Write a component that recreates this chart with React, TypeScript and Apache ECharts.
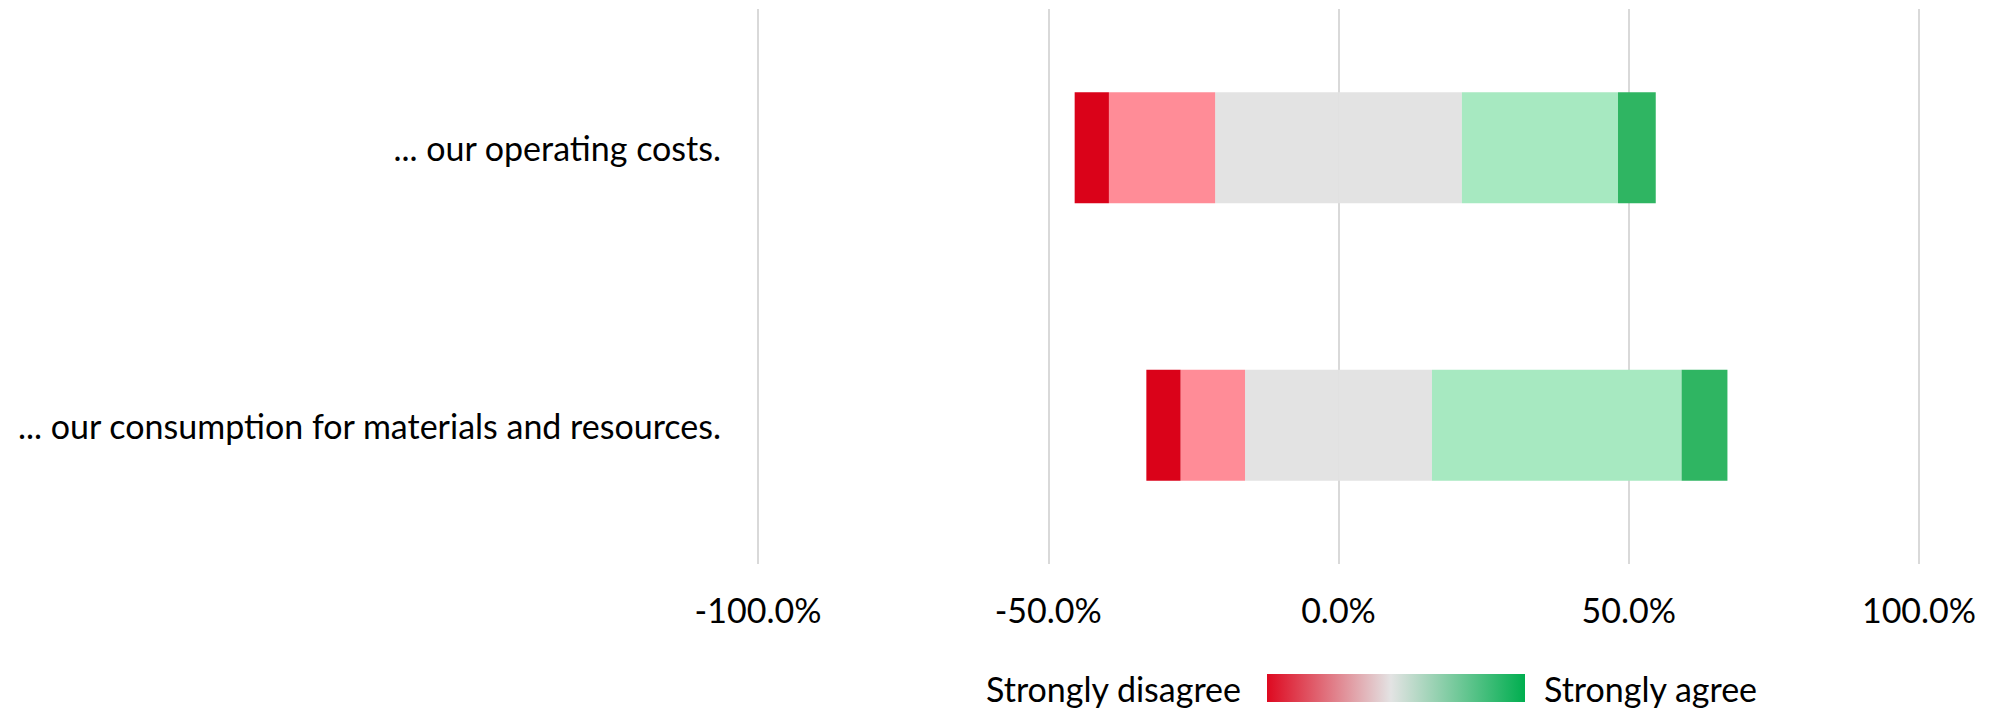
import React, { useEffect, useRef } from "react";
import * as echarts from "echarts";

const categories = [
  "... our operating costs.",
  "... our consumption for materials and resources.",
];
const stronglyDisagree = [5.9, 5.9];
const disagree = [18.3, 11.1];
const neutral = [42.5, 32.2];
const agree = [26.9, 43.0];
const stronglyAgree = [6.5, 7.9];
const axisTicks = [-100, -50, 0, 50, 100];
const legendLeft = "Strongly disagree";
const legendRight = "Strongly agree";

const FONT = "Lato";
const FS = 34;

export default function App() {
  const ref = useRef<HTMLDivElement>(null);
  useEffect(() => {
    if (!ref.current) return;
    const chart = echarts.init(ref.current, undefined, { renderer: "svg" });
    const barBase = {
      type: "bar" as const,
      stack: "likert",
      barWidth: "40%",
      stackStrategy: "samesign" as const,
    };
    chart.setOption({
      animation: false,
      backgroundColor: "#ffffff",
      textStyle: { fontFamily: FONT },
      grid: { left: 758, width: 1161, top: 9, height: 555 },
      xAxis: {
        type: "value",
        min: axisTicks[0],
        max: axisTicks[axisTicks.length - 1],
        interval: 50,
        axisLine: { show: false },
        axisTick: { show: false },
        splitLine: { show: true, lineStyle: { color: "#D9D9D9", width: 2 } },
        axisLabel: {
          formatter: (v: number) => v.toFixed(1) + "%",
          fontSize: FS,
          fontFamily: FONT,
          color: "#000000",
          margin: 28,
        },
      },
      yAxis: {
        type: "category",
        data: categories,
        inverse: true,
        axisLine: { show: false },
        axisTick: { show: false },
        splitLine: { show: false },
        axisLabel: {
          fontSize: FS,
          fontFamily: FONT,
          color: "#000000",
          margin: 37,
        },
      },
      series: [
        { ...barBase, name: "Neutral (neg)", data: neutral.map((v) => -v / 2), itemStyle: { color: "#E3E3E3" } },
        { ...barBase, name: "Disagree", data: disagree.map((v) => -v), itemStyle: { color: "#FF8C97" } },
        { ...barBase, name: "Strongly disagree", data: stronglyDisagree.map((v) => -v), itemStyle: { color: "#DA0219" } },
        { ...barBase, name: "Neutral (pos)", data: neutral.map((v) => v / 2), itemStyle: { color: "#E3E3E3" } },
        { ...barBase, name: "Agree", data: agree, itemStyle: { color: "#A7E9C1" } },
        { ...barBase, name: "Strongly agree", data: stronglyAgree, itemStyle: { color: "#2FB562" } },
      ],
      graphic: [
        {
          type: "text",
          x: 1241,
          y: 688,
          style: {
            text: legendLeft,
            fontSize: FS,
            fontFamily: FONT,
            fill: "#000000",
            align: "right",
            verticalAlign: "middle",
          },
        },
        {
          type: "rect",
          shape: { x: 1267, y: 674, width: 258, height: 28 },
          style: {
            fill: new echarts.graphic.LinearGradient(0, 0, 1, 0, [
              { offset: 0, color: "#DE0920" },
              { offset: 0.48, color: "#E3E3E3" },
              { offset: 1, color: "#00AE4F" },
            ]),
          },
        },
        {
          type: "text",
          x: 1544,
          y: 688,
          style: {
            text: legendRight,
            fontSize: FS,
            fontFamily: FONT,
            fill: "#000000",
            align: "left",
            verticalAlign: "middle",
          },
        },
      ],
    });
    return () => chart.dispose();
  }, []);
  return (
    <div
      ref={ref}
      style={{ position: "absolute", left: 0, top: 0, width: 1995, height: 708 }}
    />
  );
}
